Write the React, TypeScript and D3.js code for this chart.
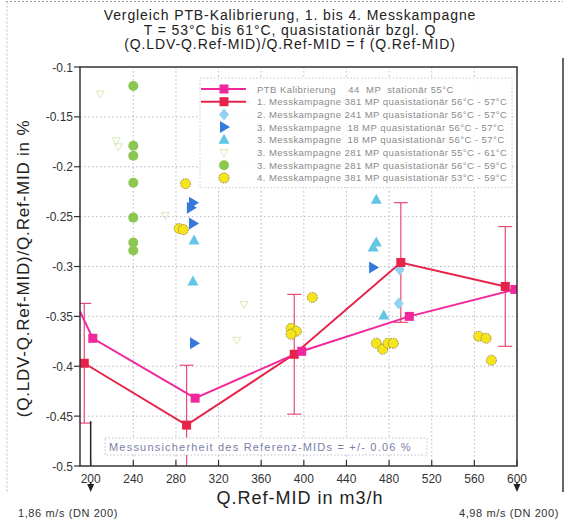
import React from "react";
import * as d3 from "d3";

const W = 579;
const H = 523;

const xTicks = [200, 240, 280, 320, 360, 400, 440, 480, 520, 560, 600];
const yTicks = [-0.1, -0.15, -0.2, -0.25, -0.3, -0.35, -0.4, -0.45, -0.5];
const yTickLabels = ["-0.1", "-0.15", "-0.2", "-0.25", "-0.3", "-0.35", "-0.4", "-0.45", "-0.5"];

// PTB Kalibrierung (magenta line)
const ptbQ = [190, 202, 298, 398, 499, 598];
const ptbV = [-0.345, -0.372, -0.432, -0.385, -0.35, -0.323];

// 1. Messkampagne (red line, error bars)
const mk1Q = [194, 290, 391, 491, 589];
const mk1V = [-0.397, -0.459, -0.388, -0.296, -0.32];
const mk1Err = 0.06;

// 2. Messkampagne (light blue diamonds)
const mk2Q = [490, 489];
const mk2V = [-0.303, -0.337];

// 3. Messkampagne 18 MP (blue right triangles)
const mk3aQ = [296, 294, 296, 297, 465];
const mk3aV = [-0.236, -0.241, -0.257, -0.377, -0.301];

// 3. Messkampagne 18 MP (cyan up triangles)
const mk3bQ = [297, 296, 468, 465, 468, 475];
const mk3bV = [-0.274, -0.315, -0.233, -0.281, -0.276, -0.349];

// 3. Messkampagne 281 MP 55-61 (faint)
const mk3cQ = [209, 224, 226, 270, 344, 337];
const mk3cV = [-0.127, -0.174, -0.18, -0.249, -0.338, -0.374];

// 3. Messkampagne 281 MP 56-59 (green circles)
const mk3dQ = [240, 240, 240, 240, 240, 240, 240];
const mk3dV = [-0.119, -0.179, -0.189, -0.216, -0.251, -0.276, -0.284];

// 4. Messkampagne (yellow circles)
const mk4Q = [289, 283, 287, 325, 408, 388, 393, 388, 468, 474, 479, 484, 564, 571, 576];
const mk4V = [-0.217, -0.262, -0.263, -0.212, -0.331, -0.362, -0.365, -0.368, -0.377, -0.383, -0.377, -0.377, -0.37, -0.372, -0.394];

const legendLabels = [
  "PTB Kalibrierung    44  MP  stationär 55°C",
  "1. Messkampagne 381 MP quasistationär 56°C - 57°C",
  "2. Messkampagne 241 MP quasistationär 56°C - 57°C",
  "3. Messkampagne  18 MP quasistationär 56°C - 57°C",
  "3. Messkampagne  18 MP quasistationär 56°C - 57°C",
  "3. Messkampagne 281 MP quasistationär 55°C - 61°C",
  "3. Messkampagne 281 MP quasistationär 56°C - 59°C",
  "4. Messkampagne 381 MP quasistationär 53°C - 59°C",
];

const titleLines = [
  "Vergleich PTB-Kalibrierung, 1. bis 4. Messkampagne",
  "T = 53°C bis 61°C, quasistationär bzgl. Q",
  "(Q.LDV-Q.Ref-MID)/Q.Ref-MID = f (Q.Ref-MID)",
];

const FONT = "'Liberation Sans', Arial, sans-serif";
const C_PTB = "#f0289c";
const C_MK1 = "#e8234a";

function Marker({ type, x, y }: { type: string; x: number; y: number }) {
  switch (type) {
    case "ptb":
      return <rect x={x - 4.5} y={y - 4.5} width={9} height={9} fill={C_PTB} />;
    case "mk1":
      return <rect x={x - 4.5} y={y - 4.5} width={9} height={9} fill={C_MK1} />;
    case "diamond":
      return <path d={`M${x},${y - 6}L${x + 5},${y}L${x},${y + 6}L${x - 5},${y}Z`} fill="#92d2f2" />;
    case "right":
      return <path d={`M${x - 4},${y - 6}L${x + 6},${y}L${x - 4},${y + 6}Z`} fill="#3479db" />;
    case "up":
      return <path d={`M${x},${y - 6}L${x + 5.5},${y + 4}L${x - 5.5},${y + 4}Z`} fill="#62c6e6" />;
    case "faint":
      return <path d={`M${x - 4},${y - 3}L${x + 4},${y - 3}L${x},${y + 4}Z`} fill="none" stroke="#d6eab8" strokeWidth={1} />;
    case "green":
      return <circle cx={x} cy={y} r={5} fill="#8cc751" />;
    case "yellow":
      return <circle cx={x} cy={y} r={5} fill="#f7e51c" stroke="#7a7040" strokeWidth={0.8} strokeDasharray="1.5,1" />;
    default:
      return null;
  }
}

export default function App() {
  const left = 80, right = 517, top = 67, bottom = 466;
  const x = d3.scaleLinear().domain([190, 600]).range([left, right]);
  const y = d3.scaleLinear().domain([-0.5, -0.1]).range([bottom, top]);

  const line = d3.line<[number, number]>().x((d) => x(d[0])).y((d) => y(d[1]));
  const ptbPts: [number, number][] = ptbQ.map((q, i) => [q, ptbV[i]]);
  const mk1Pts: [number, number][] = mk1Q.map((q, i) => [q, mk1V[i]]);

  const scatter = (qs: number[], vs: number[], type: string, key: string) =>
    qs.map((q, i) => <Marker key={key + i} type={type} x={x(q)} y={y(vs[i])} />);

  const legendTypes = ["ptb", "mk1", "diamond", "right", "up", "faint", "green", "yellow"];
  const lgX = 200, lgY = 78, lgRow = 12.7;

  return (
    <svg width={W} height={H} style={{ display: "block", position: "absolute", left: 0, top: 0 }} fontFamily={FONT}>
      <rect x={0} y={0} width={W} height={H} fill="#fff" />
      <line x1={6} y1={1.5} x2={563} y2={1.5} stroke="#999" strokeDasharray="2,2" />
      <line x1={7} y1={1.5} x2={7} y2={492} stroke="#bbb" strokeDasharray="2,2" />
      <line x1={563} y1={58} x2={563} y2={492} stroke="#333" strokeWidth={1.5} />

      {titleLines.map((t, i) => (
        <text key={i} x={290} y={20 + i * 14.5} textAnchor="middle" fontSize={14} letterSpacing={0.9} fill="#222">{t}</text>
      ))}

      <defs>
        <clipPath id="plotClip">
          <rect x={left} y={top} width={right - left} height={bottom - top} />
        </clipPath>
      </defs>

      {xTicks.filter((t) => t > 200 && t < 600).map((t) => (
        <line key={"gx" + t} x1={x(t)} x2={x(t)} y1={top} y2={bottom} stroke="#b8b8c8" strokeDasharray="1.5,2.5" />
      ))}
      {yTicks.filter((t) => t > -0.5 && t < -0.1).map((t) => (
        <line key={"gy" + t} x1={left} x2={right} y1={y(t)} y2={y(t)} stroke="#b8b8c8" strokeDasharray="1.5,2.5" />
      ))}

      <g clipPath="url(#plotClip)">
        {scatter(mk3cQ, mk3cV, "faint", "f")}
        {scatter(mk3dQ, mk3dV, "green", "g")}
        {mk1Q.map((q, i) => {
          const cx = x(q);
          const y1 = y(mk1V[i] + mk1Err);
          const y2 = y(mk1V[i] - mk1Err);
          return (
            <g key={"eb" + i} stroke="#ea4a72" strokeWidth={1.2}>
              <line x1={cx} x2={cx} y1={y1} y2={y2} />
              <line x1={cx - 7} x2={cx + 7} y1={y1} y2={y1} />
              <line x1={cx - 7} x2={cx + 7} y1={y2} y2={y2} />
            </g>
          );
        })}
        {scatter(mk2Q, mk2V, "diamond", "d")}
        {scatter(mk3aQ, mk3aV, "right", "r")}
        {scatter(mk3bQ, mk3bV, "up", "u")}
        {scatter(mk4Q, mk4V, "yellow", "y")}
        <path d={line(mk1Pts) || ""} fill="none" stroke={C_MK1} strokeWidth={2} />
        <path d={line(ptbPts) || ""} fill="none" stroke={C_PTB} strokeWidth={2} />
        {mk1Pts.map((p, i) => <Marker key={"m1" + i} type="mk1" x={x(p[0])} y={y(p[1])} />)}
        {ptbPts.slice(1).map((p, i) => <Marker key={"pt" + i} type="ptb" x={x(p[0])} y={y(p[1])} />)}
        <line x1={x(200)} x2={x(200)} y1={y(-0.455)} y2={bottom} stroke="#222" strokeWidth={1.5} />
      </g>

      <g>
        <rect x={lgX} y={lgY} width={312} height={lgRow * 8 + 8} fill="#fff" fillOpacity={0.85} stroke="#c8c8d4" strokeDasharray="1.5,2" />
        {legendLabels.map((lab, i) => {
          const cy = lgY + 11 + i * lgRow;
          const t = legendTypes[i];
          return (
            <g key={"lg" + i}>
              {(t === "ptb" || t === "mk1") && (
                <line x1={lgX + 1} x2={lgX + 46} y1={cy} y2={cy} stroke={t === "ptb" ? C_PTB : C_MK1} strokeWidth={2} />
              )}
              <Marker type={t} x={lgX + 24} y={cy} />
              <text x={lgX + 57} y={cy + 3.5} fontSize={9.5} letterSpacing={0.45} fill="#8a8a8a" style={{ whiteSpace: "pre" }}>{lab}</text>
            </g>
          );
        })}
      </g>

      <rect x={105} y={438} width={322} height={17} fill="#fff" stroke="#c0c0d0" strokeDasharray="1.5,2" />
      <text x={109} y={450.5} fontSize={11} letterSpacing={1.2} fill="#7a80a8">Messunsicherheit des Referenz-MIDs = +/- 0.06 %</text>

      <rect x={left} y={top} width={right - left} height={bottom - top} fill="none" stroke="#333" strokeWidth={1.5} />

      {yTicks.map((t, i) => (
        <g key={"yt" + t}>
          <line x1={left - 6} x2={left} y1={y(t)} y2={y(t)} stroke="#333" strokeWidth={1.2} />
          <text x={left - 7} y={y(t) + 4.5} textAnchor="end" fontSize={12} fill="#333">{yTickLabels[i]}</text>
        </g>
      ))}
      {xTicks.map((t) => (
        <g key={"xt" + t}>
          <line x1={x(t)} x2={x(t)} y1={bottom - 6} y2={bottom} stroke="#333" strokeWidth={1.2} />
          <text x={x(t)} y={bottom + 17} textAnchor="middle" fontSize={12} fill="#333">{t}</text>
        </g>
      ))}

      <text x={300} y={504} textAnchor="middle" fontSize={18} letterSpacing={1} fill="#222">Q.Ref-MID in m3/h</text>
      <text transform={`translate(29,${(top + bottom) / 2 + 2}) rotate(-90)`} textAnchor="middle" fontSize={17} letterSpacing={0.8} fill="#222">
        (Q.LDV-Q.Ref-MID)/Q.Ref-MID in %
      </text>

      {[200, 600].map((t) => (
        <g key={"vm" + t}>
          <line x1={x(t)} x2={x(t)} y1={482} y2={487} stroke="#222" strokeWidth={1.5} />
          <path d={`M${x(t) - 3.5},${484}L${x(t) + 3.5},${484}L${x(t)},${492}Z`} fill="#222" />
        </g>
      ))}
      <text x={18} y={517} fontSize={11} letterSpacing={0.6} fill="#333">1,86 m/s (DN 200)</text>
      <text x={459} y={517} fontSize={11} letterSpacing={0.6} fill="#333">4,98 m/s (DN 200)</text>
    </svg>
  );
}
